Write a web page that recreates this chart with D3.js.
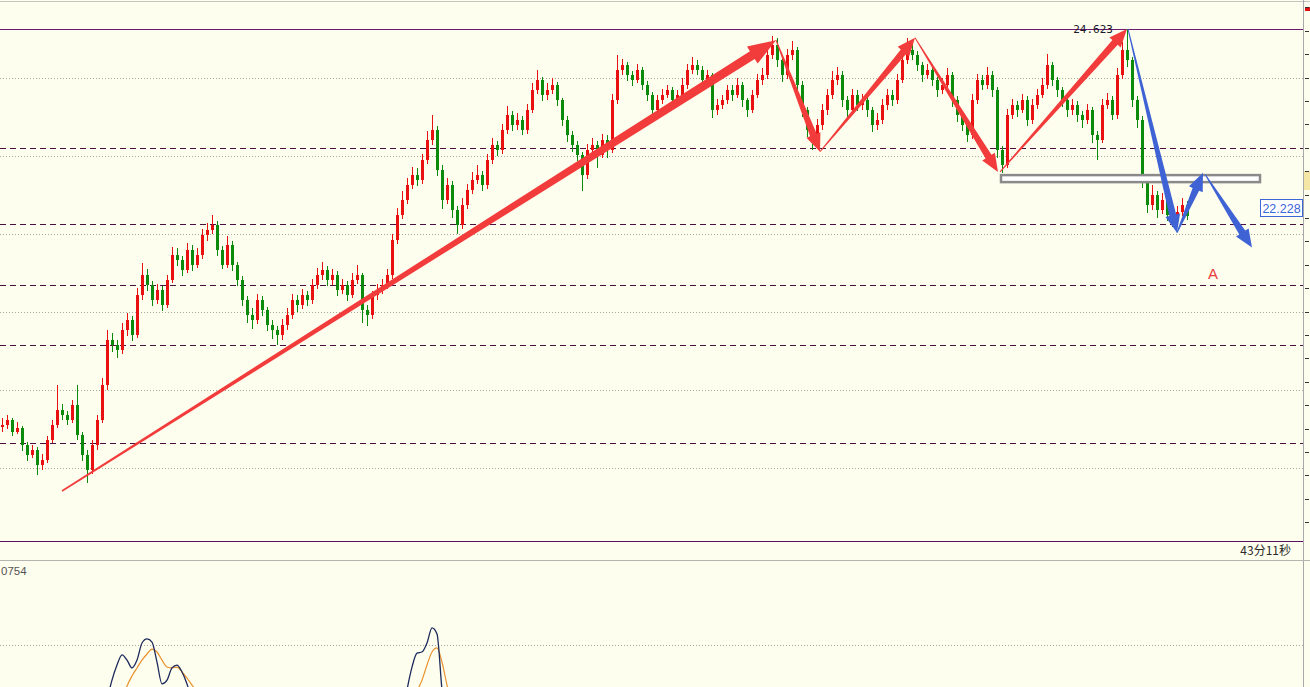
<!DOCTYPE html>
<html><head><meta charset="utf-8">
<script src="https://cdn.jsdelivr.net/npm/d3@7"></script>
<style>html,body{margin:0;padding:0;background:#fefeee;overflow:hidden}</style>
</head><body>
<svg id="c" width="1310" height="687"></svg>
<script>
// ---------------- data ----------------
const firstOpen = 19.52;
const closes = [
19.55,19.61,19.46,19.51,19.29,19.16,19.23,19.03,19.10,19.35,
19.55,19.74,19.67,19.61,19.80,19.42,19.16,18.97,19.29,19.61,
20.06,20.64,20.57,20.51,20.76,20.89,20.70,21.21,21.47,21.34,
21.15,21.28,21.08,21.41,21.73,21.66,21.53,21.79,21.60,21.73,
21.98,22.05,22.11,21.79,21.60,21.85,21.60,21.41,21.15,20.96,
20.89,21.15,21.02,20.83,20.76,20.70,20.83,20.96,21.15,21.08,
21.21,21.15,21.34,21.47,21.53,21.41,21.47,21.28,21.34,21.21,
21.41,21.47,21.02,20.96,21.21,21.28,21.34,21.47,21.92,22.24,
22.43,22.62,22.75,22.69,22.94,23.20,23.33,22.82,22.43,22.62,
22.30,22.11,22.37,22.56,22.69,22.75,22.62,22.94,23.14,23.07,
23.33,23.52,23.39,23.46,23.33,23.58,23.84,23.97,23.78,23.84,
23.91,23.71,23.46,23.26,23.14,23.01,22.75,23.07,23.14,23.01,
23.20,23.07,23.71,24.10,24.16,24.03,23.97,24.10,23.91,23.78,
23.58,23.71,23.78,23.84,23.71,23.78,23.91,24.10,24.16,24.10,
23.97,24.03,23.58,23.65,23.71,23.84,23.78,23.91,23.71,23.58,
23.78,23.97,24.03,24.29,24.42,24.23,24.03,24.29,24.35,23.91,
23.58,23.33,23.20,23.39,23.58,23.78,23.97,24.03,23.71,23.58,
23.78,23.65,23.71,23.58,23.39,23.46,23.65,23.78,23.71,23.97,
24.23,24.35,24.29,24.16,24.03,24.10,23.97,23.84,23.91,24.03,
23.71,23.52,23.39,23.26,23.71,23.97,23.91,24.03,23.84,23.07,
22.88,23.52,23.65,23.58,23.71,23.46,23.65,23.78,23.91,24.16,
23.97,23.84,23.71,23.58,23.65,23.52,23.46,23.58,23.26,23.20,
23.65,23.71,23.52,24.03,24.35,24.23,23.71,23.46,22.69,22.37,
22.50,22.30,22.43,22.24,22.17,22.28,22.37,22.228];
const highs = [
19.63,19.67,19.64,19.58,19.53,19.33,19.29,19.26,19.17,19.41,
19.61,20.06,19.82,19.72,19.87,20.06,19.45,19.22,19.35,19.67,
20.15,20.76,20.72,20.63,20.85,20.98,20.94,21.30,21.62,21.54,
21.39,21.36,21.33,21.47,21.83,21.81,21.71,21.88,21.85,21.81,
22.06,22.14,22.24,22.16,21.84,21.97,21.90,21.64,21.45,21.20,
21.04,21.23,21.20,21.06,20.89,20.82,20.91,21.04,21.23,21.21,
21.29,21.27,21.42,21.56,21.63,21.58,21.54,21.52,21.42,21.39,
21.50,21.60,21.50,21.08,21.27,21.35,21.42,21.54,22.00,22.33,
22.55,22.71,22.86,22.84,23.02,23.31,23.52,23.38,22.88,22.71,
22.67,22.35,22.45,22.64,22.79,22.88,22.80,23.02,23.23,23.19,
23.41,23.63,23.57,23.54,23.51,23.66,23.93,24.10,24.01,23.93,
24.00,23.94,23.74,23.51,23.31,23.19,23.05,23.15,23.22,23.19,
23.28,23.26,23.79,24.29,24.24,24.20,24.08,24.18,24.13,23.96,
23.82,23.78,23.86,23.91,23.88,23.84,23.99,24.18,24.26,24.22,
24.15,24.10,24.06,23.73,23.78,23.91,23.90,23.99,23.94,23.74,
23.84,24.05,24.12,24.38,24.53,24.51,24.27,24.37,24.47,24.39,
23.96,23.62,23.38,23.47,23.66,23.86,24.08,24.14,24.08,23.76,
23.86,23.84,23.79,23.76,23.62,23.54,23.73,23.86,23.84,24.05,
24.32,24.51,24.43,24.34,24.20,24.18,24.15,24.01,23.99,24.12,
24.07,23.76,23.57,23.45,23.79,24.05,24.03,24.14,24.08,23.88,
23.12,23.60,23.73,23.70,23.79,23.76,23.73,23.86,23.99,24.30,
24.20,24.01,23.88,23.76,23.73,23.70,23.57,23.66,23.62,23.31,
23.73,23.80,23.76,24.12,24.46,24.623,24.27,23.76,23.51,22.74,
22.62,22.55,22.52,22.48,22.30,22.36,22.45,22.42];
const lows = [
19.45,19.50,19.40,19.43,19.21,19.09,19.12,18.91,18.97,19.06,
19.31,19.51,19.61,19.55,19.57,19.35,19.09,18.80,18.92,19.23,
19.57,20.00,20.48,20.40,20.46,20.69,20.62,20.66,21.15,21.26,
21.07,21.10,21.01,21.04,21.37,21.58,21.45,21.49,21.52,21.56,
21.68,21.91,21.99,21.71,21.54,21.56,21.52,21.33,21.07,20.86,
20.78,20.84,20.94,20.75,20.65,20.57,20.63,20.77,20.91,21.00,
21.03,21.07,21.10,21.29,21.41,21.33,21.34,21.20,21.23,21.13,
21.17,21.36,20.86,20.82,20.91,21.15,21.23,21.29,21.42,21.87,
22.19,22.38,22.57,22.61,22.64,22.89,23.14,22.74,22.32,22.38,
22.20,22.00,22.06,22.32,22.51,22.64,22.54,22.57,22.89,22.99,
23.02,23.28,23.31,23.33,23.26,23.28,23.54,23.79,23.70,23.71,
23.79,23.64,23.38,23.18,23.05,22.93,22.55,22.70,23.02,22.84,
22.97,22.97,23.03,23.66,24.03,23.96,23.89,23.93,23.84,23.70,
23.50,23.54,23.66,23.74,23.64,23.66,23.74,23.86,24.05,24.03,
23.89,23.93,23.48,23.52,23.60,23.66,23.70,23.74,23.62,23.49,
23.54,23.74,23.91,23.98,24.24,24.14,23.94,23.98,24.22,23.82,
23.49,23.24,23.07,23.14,23.33,23.52,23.73,23.91,23.62,23.50,
23.54,23.57,23.59,23.50,23.30,23.33,23.41,23.59,23.64,23.66,
23.93,24.18,24.22,24.08,23.94,23.98,23.89,23.75,23.79,23.86,
23.62,23.43,23.31,23.18,23.21,23.66,23.84,23.86,23.75,22.97,
22.78,22.84,23.47,23.50,23.54,23.38,23.41,23.60,23.74,23.86,
23.89,23.75,23.62,23.50,23.52,23.43,23.36,23.41,23.16,22.94,
23.16,23.60,23.45,23.47,23.98,24.14,23.62,23.36,22.59,22.26,
22.30,22.20,22.25,22.16,22.08,22.12,22.22,22.18];

const gridLevels = [24, 23, 22, 21, 20, 19];
const levelLines = [23.10, 22.12, 21.34, 20.57, 19.32];
const highMark = 24.623, highIndex = 225;
const lastPrice = 22.228;
const axisTicks = [24.9,24.6,24.3,24.0,23.7,23.4,23.1,22.8,22.5,22.2,21.9,21.6,21.3,21.0,20.7,20.4,20.1,19.8,19.5,19.2,18.9,18.6,18.3];

// annotations: [fromIndex, fromPrice, toIndex, toPrice]
const redArrows = [
  [12, 18.70, 154.8, 24.48],
  [154.8, 24.48, 163.6, 23.05],
  [163.6, 23.05, 182.6, 24.51],
  [182.6, 24.51, 199.2, 22.79],
  [199.6, 22.79, 225, 24.623]
];
const blueArrows = [
  [225.2, 24.623, 235, 22.01],
  [235, 22.01, 240.2, 22.78],
  [240.6, 22.76, 250, 21.82]
];
const zoneBox = [199.8, 251.6, 22.75, 22.66];
const labelA = [242.2, 21.42];
const timerText = "43分11秒";
const indText = "0754";

// oscillator pane (visible parts)
const indMain1Start = 21, indMain1 = [55.6,64.4,71.1,75.6,73.3,69.8,73.3,80.9,82.7,81.3,72.4,62.7,64.4,69.8,71.1,68.0,62.7,55.6,51.1];
const indSig1Start = 24, indSig1 = [55.6,61.8,66.2,69.8,73.3,76.0,78.2,76.9,73.3,70.2,69.8,70.2,68.0,65.3,62.2,59.1,53.3];
const indMain2Start = 80, indMain2 = [46.7,60.0,70.2,76.4,76.9,80.9,87.6,84.9,60.0,42.2];
const indSig2Start = 82, indSig2 = [51.1,59.1,64.4,71.1,76.9,78.7,72.4,62.2,53.3];
const indLevel = 80;

// ---------------- drawing ----------------
const W = 1310, H = 687, plotR = 1303, mainBottom = 541, indTop = 560;
const svg = d3.select("#c");
svg.append("rect").attr("width", W).attr("height", H).attr("fill", "#fefeee");

const x = d3.scaleLinear().domain([0, closes.length - 1]).range([2, 1187]);
const y = d3.scaleLinear().domain([24.623, 19]).range([29, 467.594]);
const yi = d3.scaleLinear().domain([0, 100]).range([825, 600]);

const defs = svg.append("defs");
defs.append("clipPath").attr("id", "mainClip").append("rect")
  .attr("x", 0).attr("y", 0).attr("width", plotR).attr("height", mainBottom);
defs.append("clipPath").attr("id", "indClip").append("rect")
  .attr("x", 0).attr("y", indTop + 1).attr("width", plotR).attr("height", H - indTop);

// frame lines
svg.append("line").attr("x1", 0).attr("x2", W).attr("y1", 1.5).attr("y2", 1.5).attr("stroke", "#c4c4c0");
const main = svg.append("g").attr("clip-path", "url(#mainClip)");

main.selectAll(".grid").data(gridLevels).join("line")
  .attr("x1", 0).attr("x2", plotR)
  .attr("y1", d => Math.round(y(d)) + 0.5).attr("y2", d => Math.round(y(d)) + 0.5)
  .attr("stroke", "#a8a89c").attr("stroke-dasharray", "1,2");
main.selectAll(".lvl").data(levelLines).join("line")
  .attr("x1", 0).attr("x2", plotR)
  .attr("y1", d => Math.round(y(d)) + 0.5).attr("y2", d => Math.round(y(d)) + 0.5)
  .attr("stroke", "#4a1040").attr("stroke-dasharray", "6,4");
main.append("line").attr("x1", 0).attr("x2", plotR)
  .attr("y1", Math.round(y(highMark)) + 0.5).attr("y2", Math.round(y(highMark)) + 0.5)
  .attr("stroke", "#6a1a70");

// candles
const candles = closes.map((c, i) => ({
  i, o: i ? closes[i - 1] : firstOpen, c, h: highs[i], l: lows[i]
}));
const upC = "#e81010", dnC = "#0b8a0b";
const cg = main.append("g").attr("shape-rendering", "crispEdges");
cg.selectAll(".wick").data(candles).join("line")
  .attr("x1", d => Math.round(x(d.i)) + 0.5).attr("x2", d => Math.round(x(d.i)) + 0.5)
  .attr("y1", d => y(d.h)).attr("y2", d => y(d.l))
  .attr("stroke", d => d.c >= d.o ? upC : dnC);
cg.selectAll(".body").data(candles).join("rect")
  .attr("x", d => Math.round(x(d.i)) - 1).attr("width", 3)
  .attr("y", d => y(Math.max(d.o, d.c)))
  .attr("height", d => Math.max(1, Math.abs(y(d.o) - y(d.c))))
  .attr("fill", d => d.c >= d.o ? upC : dnC);

// zone box
main.append("rect")
  .attr("x", x(zoneBox[0])).attr("width", x(zoneBox[1]) - x(zoneBox[0]))
  .attr("y", y(zoneBox[2])).attr("height", y(zoneBox[3]) - y(zoneBox[2]))
  .attr("fill", "#ffffff").attr("stroke", "#8a8a8a").attr("stroke-width", 2.5);

// arrows
function arrowPath(x1, y1, x2, y2, tail, neck, hw, hl) {
  const dx = x2 - x1, dy = y2 - y1, L = Math.hypot(dx, dy);
  const ux = dx / L, uy = dy / L, nx = -uy, ny = ux;
  const bx = x2 - ux * hl, by = y2 - uy * hl;
  const p = [[x1 + nx * tail / 2, y1 + ny * tail / 2], [bx + nx * neck / 2, by + ny * neck / 2],
    [bx + nx * hw / 2, by + ny * hw / 2], [x2, y2], [bx - nx * hw / 2, by - ny * hw / 2],
    [bx - nx * neck / 2, by - ny * neck / 2], [x1 - nx * tail / 2, y1 - ny * tail / 2]];
  return "M" + p.map(q => q[0].toFixed(1) + "," + q[1].toFixed(1)).join("L") + "Z";
}
function drawArrows(list, color) {
  main.selectAll(null).data(list).join("path")
    .attr("d", a => {
      const x1 = x(a[0]), y1 = y(a[1]), x2 = x(a[2]), y2 = y(a[3]);
      const L = Math.hypot(x2 - x1, y2 - y1);
      return L > 500 ? arrowPath(x1, y1, x2, y2, 1.6, 9, 20, 28)
                     : arrowPath(x1, y1, x2, y2, 1, 7, 15, 18);
    })
    .attr("fill", color);
}
drawArrows(redArrows, "#f23c3c");
drawArrows(blueArrows, "#3f63d4");

// texts in main
main.append("text").attr("x", x(highIndex) - 14).attr("y", y(highMark))
  .attr("dy", "0.35em").attr("text-anchor", "end")
  .attr("font-family", "DejaVu Sans Mono, monospace").attr("font-size", 11).attr("fill", "#1a1a2a")
  .text(highMark.toFixed(3));
main.append("text").attr("x", x(labelA[0])).attr("y", y(labelA[1]))
  .attr("text-anchor", "middle")
  .attr("font-family", "Liberation Sans, Arial, sans-serif").attr("font-size", 15).attr("fill", "#e83c3c")
  .text("A");

// last price label
const ly = y(lastPrice);
svg.append("rect").attr("x", 1260.5).attr("y", Math.round(ly) - 16.5).attr("width", 42).attr("height", 17)
  .attr("fill", "#ffffff").attr("stroke", "#3a66d8");
svg.append("text").attr("x", 1281.5).attr("y", Math.round(ly) - 3)
  .attr("text-anchor", "middle").attr("font-family", "Liberation Sans, Arial, sans-serif")
  .attr("font-size", 12.5).attr("fill", "#3a66d8").text(lastPrice.toFixed(3));

// main bottom border
svg.append("line").attr("x1", 0).attr("x2", plotR).attr("y1", mainBottom + 0.5).attr("y2", mainBottom + 0.5)
  .attr("stroke", "#5a1060");
// right axis strip
svg.append("rect").attr("x", 1304).attr("y", Math.round(y(22.80))).attr("width", 6).attr("height", 19).attr("fill", "#f6e6a6");
svg.append("rect").attr("x", 1305).attr("y", 7).attr("width", 5).attr("height", 4).attr("fill", "#e01010");
svg.selectAll(".tk").data(axisTicks).join("line")
  .attr("x1", 1305).attr("x2", 1309)
  .attr("y1", d => Math.round(y(d)) + 0.5).attr("y2", d => Math.round(y(d)) + 0.5)
  .attr("stroke", "#333");
svg.append("line").attr("x1", plotR + 0.5).attr("x2", plotR + 0.5).attr("y1", 0).attr("y2", H)
  .attr("stroke", "#a8a8a8");

// timer text
svg.append("text").attr("x", 1291).attr("y", 555).attr("text-anchor", "end")
  .attr("font-family", "Noto Sans CJK SC, sans-serif").attr("font-size", 12).attr("fill", "#2a2a2a")
  .text(timerText);

// indicator pane
svg.append("line").attr("x1", 0).attr("x2", W).attr("y1", indTop + 0.5).attr("y2", indTop + 0.5)
  .attr("stroke", "#b4b4b0");
svg.append("text").attr("x", 1).attr("y", 575)
  .attr("font-family", "Liberation Sans, Arial, sans-serif").attr("font-size", 11.5).attr("fill", "#555")
  .text(indText);
const ind = svg.append("g").attr("clip-path", "url(#indClip)");
ind.append("line").attr("x1", 0).attr("x2", plotR)
  .attr("y1", Math.round(yi(indLevel)) + 0.5).attr("y2", Math.round(yi(indLevel)) + 0.5)
  .attr("stroke", "#a8a89c").attr("stroke-dasharray", "1,2");
const line = d3.line().x(d => x(d[0])).y(d => yi(d[1])).curve(d3.curveMonotoneX);
const seg = (start, arr) => arr.map((v, k) => [start + k, v]);
[[indSig1Start, indSig1], [indSig2Start, indSig2]].forEach(s => {
  ind.append("path").attr("d", line(seg(s[0], s[1]))).attr("fill", "none")
    .attr("stroke", "#e8902c").attr("stroke-width", 1.2);
});
[[indMain1Start, indMain1], [indMain2Start, indMain2]].forEach(s => {
  ind.append("path").attr("d", line(seg(s[0], s[1]))).attr("fill", "none")
    .attr("stroke", "#1c2a5c").attr("stroke-width", 1.3);
});
</script>
</body></html>
